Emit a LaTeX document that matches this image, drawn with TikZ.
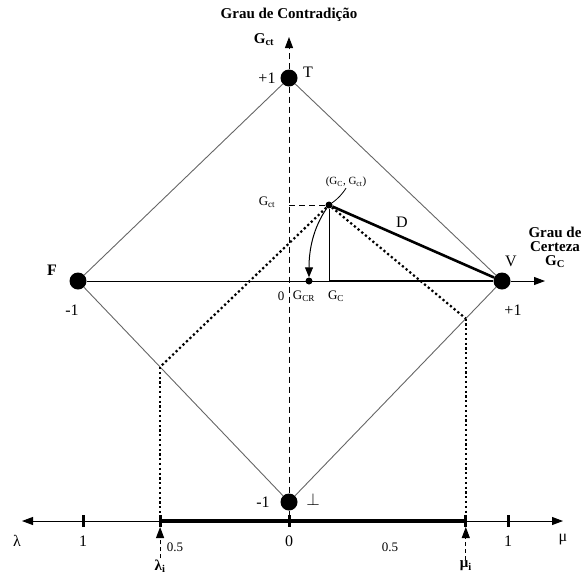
\documentclass[tikz,border=0pt]{standalone}
\usepackage{fontspec}
\setmainfont{Liberation Serif}
\usepackage{tikz}
\usetikzlibrary{arrows.meta}
\usetikzlibrary{calc}

\begin{document}
\begin{tikzpicture}[
    x=1pt, y=-1pt,
    every node/.style={inner sep=1pt, font=\fontsize{16}{18}\selectfont},
    vertex/.style={circle, fill, inner sep=0pt, minimum size=17pt},
    smalldot/.style={circle, fill, inner sep=0pt, minimum size=7pt},
    small/.style={font=\fontsize{13}{15}\selectfont},
    title/.style={font=\fontsize{15}{17}\selectfont\bfseries},
    edge/.style={draw=black!60, line width=0.9pt},
    axisdash/.style={line width=1pt, dash pattern=on 6pt off 4pt},
    dotline/.style={line width=2.2pt, dash pattern=on 2.2pt off 2.6pt},
    tip/.style={-{Triangle[length=11pt,width=8pt]}},
  ]
  \useasboundingbox (0,0) rectangle (585,574);

  % vertices of the lattice
  \node[vertex] (T) at (289,78)  {};
  \node[vertex] (V) at (502,281) {};
  \node[vertex] (F) at (78,281)  {};
  \node[vertex] (B) at (289,502) {};
  \node[smalldot] (P) at (329,205) {};
  \node[smalldot] (Gcr) at (309,281) {};

  \coordinate (ytip) at (289,37);
  \coordinate (xtip) at (545,281);
  \coordinate (Gct) at (289,205);
  \coordinate (Gcf) at (329,281);
  \coordinate (O) at (289,521);
  \coordinate (ltip) at (22,521);
  \coordinate (rtip) at (563,521);
  \coordinate (meetL) at ($(F)!0.389!(B)$);
  \coordinate (meetR) at ($(V)!0.17!(B)$);

  \draw[edge] (T) -- (V);
  \draw[edge] (V) -- (B);
  \draw[edge] (B) -- (F);
  \draw[edge] (F) -- (T);

  % axes
  \draw[axisdash, tip] (T) -- (ytip);
  \draw[axisdash] (T) -- (B);
  \draw[axisdash] (B) -- (O);
  \draw[line width=1pt] (F) -- (Gcf);
  \draw[line width=1.6pt] (Gcf) -- (V);
  \draw[line width=1pt, tip] (V) -- (xtip);

  % point (Gc, Gct)
  \draw[axisdash] (Gct) -- (P);
  \draw[line width=0.9pt] (P) -- (Gcf);
  \draw[line width=2.6pt] (P) -- (V);
  \draw[line width=1pt, -{Triangle[length=10pt,width=8pt]}]
    (P) .. controls (313,228) and (309,250) .. (Gcr);
  \draw[dotline] (P) -- (meetL);
  \draw[dotline] (P) -- (meetR);
  \draw[dotline] (meetL) -- (meetL |- O);
  \draw[dotline] (meetR) -- (meetR |- O);

  % lower line
  \draw[line width=1pt, {Triangle[length=11pt,width=8pt]}-{Triangle[length=11pt,width=8pt]}] (ltip) -- (rtip);
  \draw[line width=4pt] (meetL |- O) -- (meetR |- O);
  \foreach \t in {83,289,508} {
    \draw[line width=3pt] (\t,515) -- (\t,527);
  }
  \draw[line width=3pt] ($(meetL |- O)+(0,-6)$) -- ($(meetL |- O)+(0,6)$);
  \draw[line width=3pt] ($(meetR |- O)+(0,-6)$) -- ($(meetR |- O)+(0,6)$);

  \coordinate (lamtip) at ($(meetL |- O)+(0,6)$);
  \coordinate (mutip) at ($(meetR |- O)+(0,6)$);
  \node[title] (lami) at (meetL |- 0,566) {λ\textsubscript{i}};
  \node[title] (mui) at (meetR |- 0,566) {μ\textsubscript{i}};
  \draw[axisdash, dash pattern=on 4pt off 3pt, tip] (lami) -- (lamtip);
  \draw[axisdash, dash pattern=on 4pt off 3pt, tip] (mui) -- (mutip);

  % labels
  \node[title] (tyaxis) at (289,15) {Grau de Contradição};
  \node[title] (lgct) at (264,40) {G\textsubscript{ct}};
  \node[title, align=center] (txaxis) at (555,247) {Grau de\\[-3pt]Certeza\\[-3pt]G\textsubscript{C}};
  \node (lTp) at (267,78) {+1};
  \node (lT) at (308,72) {T};
  \node (lV) at (511,261) {V};
  \node (lVp) at (513,310) {+1};
  \node[font=\fontsize{16}{18}\selectfont\bfseries] (lF) at (52,270) {F};
  \node (lFm) at (72,310) {-1};
  \node (lBm) at (263,502) {-1};
  \node (lB) at (313,499) {$\perp$};
  \node (lD) at (402,222) {D};
  \node[small] (lgct2) at (267,202) {G\textsubscript{ct}};
  \node[small, font=\fontsize{11}{13}\selectfont] (lpair) at (346,182) {(G\textsubscript{C}, G\textsubscript{ct})};
  \draw[line width=0.8pt] (lpair.south) to[bend left=10] (P);
  \node[small] (l0) at (281,296) {0};
  \node[small] (lgcr) at (304,296) {G\textsubscript{CR}};
  \node[small] (lgc) at (336,296) {G\textsubscript{C}};

  \node (n1l) at (83,541) {1};
  \node (n0) at (289,541) {0};
  \node (n1r) at (508,541) {1};
  \node[small] (n5l) at (175,547) {0.5};
  \node[small] (n5r) at (390,547) {0.5};
  \node (llam) at (17,541) {λ};
  \node (lmu) at (563,540) {μ};
\end{tikzpicture}
\end{document}
